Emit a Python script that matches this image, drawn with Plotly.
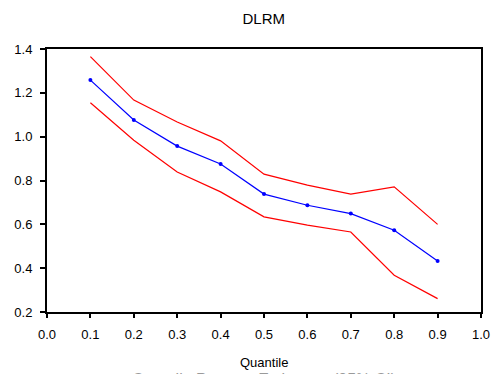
import plotly.graph_objects as go

# Quantile levels and coefficient estimates with 95% confidence bounds
quantiles = [0.1, 0.2, 0.3, 0.4, 0.5, 0.6, 0.7, 0.8, 0.9]
estimate = [1.258, 1.076, 0.957, 0.875, 0.738, 0.687, 0.649, 0.573, 0.433]
upper_ci = [1.365, 1.167, 1.067, 0.981, 0.829, 0.779, 0.738, 0.771, 0.600]
lower_ci = [1.155, 0.984, 0.839, 0.748, 0.634, 0.596, 0.565, 0.368, 0.261]

x_ticks = [0.0, 0.1, 0.2, 0.3, 0.4, 0.5, 0.6, 0.7, 0.8, 0.9, 1.0]
y_ticks = [0.2, 0.4, 0.6, 0.8, 1.0, 1.2, 1.4]

FONT = "Liberation Sans, Arial, sans-serif"

fig = go.Figure()
fig.add_trace(go.Scatter(x=quantiles, y=upper_ci, mode="lines",
                         line=dict(color="#ff0000", width=1.2), showlegend=False))
fig.add_trace(go.Scatter(x=quantiles, y=lower_ci, mode="lines",
                         line=dict(color="#ff0000", width=1.2), showlegend=False))
fig.add_trace(go.Scatter(x=quantiles, y=estimate, mode="lines+markers",
                         line=dict(color="#0000ff", width=1.2),
                         marker=dict(color="#0000ff", size=4), showlegend=False))

axis_common = dict(showline=True, linecolor="black", linewidth=2, mirror=True,
                   ticks="outside", tickwidth=1.5, tickcolor="black",
                   showgrid=False, zeroline=False, automargin=False,
                   tickfont=dict(family=FONT, size=13, color="#000000"))

fig.update_xaxes(range=[0.0, 1.0], tickvals=x_ticks,
                 ticktext=[f"{v:.1f}" for v in x_ticks],
                 ticklen=4, ticklabelstandoff=5, **axis_common)
fig.update_yaxes(range=[0.2, 1.4], tickvals=y_ticks,
                 ticktext=[f"{v:.1f}" for v in y_ticks],
                 ticklen=5, ticklabelstandoff=5, **axis_common)

# x-axis caption, then the subtitle line that runs off the bottom edge
fig.add_annotation(text="Quantile", xref="paper", yref="paper", x=0.5, y=-0.192,
                   xanchor="center", yanchor="middle", showarrow=False,
                   font=dict(family=FONT, size=13, color="#000000"))
fig.add_annotation(text="Quantile Process Estimates (95% CI)",
                   xref="paper", yref="paper", x=0.5, y=-0.215,
                   xanchor="center", yanchor="top", showarrow=False,
                   font=dict(family=FONT, size=16, color="#9a9a9a"))

fig.update_layout(
    title=dict(text="DLRM", x=0.536, xanchor="center", y=0.95, yanchor="middle",
               font=dict(family=FONT, size=15, color="#000000")),
    width=492, height=374,
    margin=dict(l=47, r=11, t=49, b=62, autoexpand=False),
    paper_bgcolor="white", plot_bgcolor="white",
)

fig.write_html("out.html")
